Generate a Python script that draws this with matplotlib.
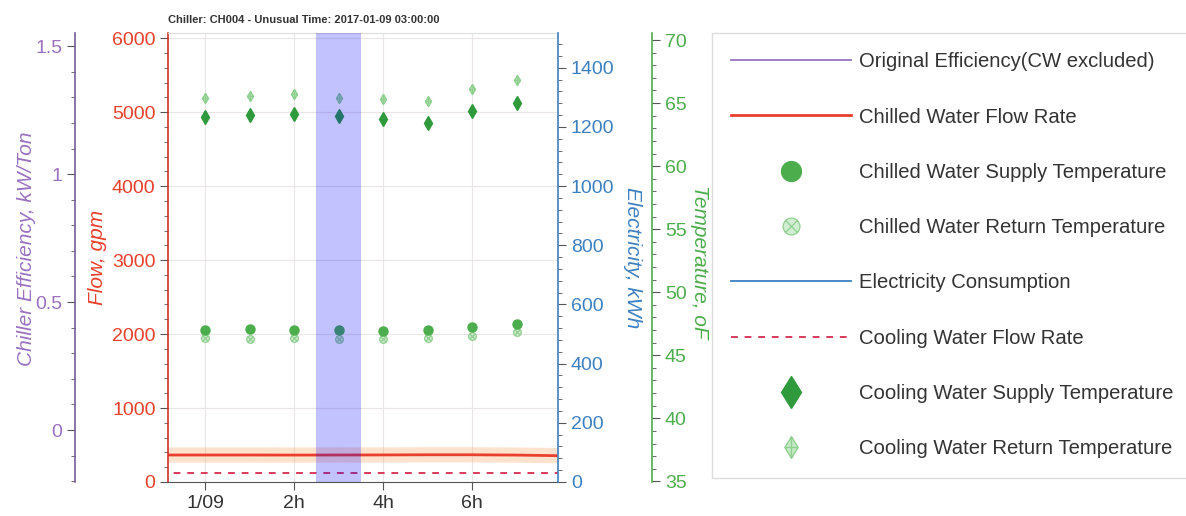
import matplotlib
matplotlib.use('Agg')
import matplotlib.pyplot as plt
from matplotlib.path import Path
from matplotlib.ticker import AutoMinorLocator, FixedLocator
import numpy as np

plt.rcParams['font.family'] = ['Liberation Sans', 'DejaVu Sans']

# ---- data ----
hours = [0, 1, 2, 3, 4, 5, 6, 7]
x_labels = ['1/09', '2h', '4h', '6h']
x_label_pos = [0, 2, 4, 6]

flow_hours = [-1, 0, 1, 2, 3, 4, 5, 6, 7, 8]
chw_flow = [365, 365, 365, 364, 365, 366, 368, 368, 364, 355]
cw_flow = [122, 122, 122, 122, 122, 122, 122, 122, 122, 122]

efficiency = []      # not visible in the view
electricity = []     # not visible in the view

chw_supply = [47.03, 47.09, 47.03, 46.98, 46.96, 46.98, 47.25, 47.49]
chw_return = [46.40, 46.32, 46.36, 46.32, 46.32, 46.40, 46.56, 46.88]
cw_supply = [63.92, 64.06, 64.11, 64.00, 63.74, 63.45, 64.37, 65.00]
cw_return = [65.38, 65.56, 65.70, 65.38, 65.33, 65.19, 66.09, 66.81]

unusual_start = 2.5
unusual_end = 3.5

title = 'Chiller: CH004 - Unusual Time: 2017-01-09 03:00:00'

# ---- colours ----
c_purple = '#9a72c0'
c_red = '#e8402c'
c_blue = '#3d80c0'
c_green = '#4cad4c'
c_dkgreen = '#2f9a3c'

# custom markers
diamond_plus = Path(
    [(0, 1), (0.62, 0), (0, -1), (-0.62, 0), (0, 1),
     (0, 1), (0, -1), (-0.62, 0), (0.62, 0)],
    [Path.MOVETO, Path.LINETO, Path.LINETO, Path.LINETO, Path.CLOSEPOLY,
     Path.MOVETO, Path.LINETO, Path.MOVETO, Path.LINETO])
circle_x = Path.make_compound_path(
    Path.unit_circle(),
    Path([(-0.7, -0.7), (0.7, 0.7)], [Path.MOVETO, Path.LINETO]),
    Path([(-0.7, 0.7), (0.7, -0.7)], [Path.MOVETO, Path.LINETO]))

fig = plt.figure(figsize=(11.86, 5.16), dpi=100)
ax = fig.add_axes([0.1417, 0.0659, 0.329, 0.870])
ax_e = ax.twinx()
ax_t = ax.twinx()
ax_p = ax.twinx()

ax_t.spines['right'].set_position(('axes', 1.241))
ax_p.spines['left'].set_position(('axes', -0.2385))
ax_p.yaxis.set_ticks_position('left')
ax_p.yaxis.set_label_position('left')

for a in (ax_e, ax_t, ax_p):
    a.spines['top'].set_visible(False)
    a.spines['bottom'].set_visible(False)
ax_e.spines['left'].set_visible(False)
ax_t.spines['left'].set_visible(False)
ax_p.spines['right'].set_visible(False)
ax.spines['right'].set_visible(False)
ax.spines['top'].set_color('#dddddd')
ax.spines['bottom'].set_color('#555555')

# lines on flow axis
ax.plot(flow_hours, chw_flow, color='#ff9a50', lw=11, alpha=0.28, solid_capstyle='butt')
l_chw, = ax.plot(flow_hours, chw_flow, color=c_red, lw=2, label='Chilled Water Flow Rate')
l_cw, = ax.plot(flow_hours, cw_flow, color='#d83a5a', lw=1.4, ls=(0, (3.5, 3.5)),
                label='Cooling Water Flow Rate')
l_eff, = ax_p.plot(hours[:len(efficiency)], efficiency, color=c_purple, lw=1.3,
                   label='Original Efficiency(CW excluded)')
l_el, = ax_e.plot(hours[:len(electricity)], electricity, color=c_blue, lw=1.3,
                  label='Electricity Consumption')

# temperature markers
m_cws, = ax_t.plot(hours, cw_supply, ls='none', marker='d', ms=7.5, color=c_dkgreen,
                   label='Cooling Water Supply Temperature')
m_cwr, = ax_t.plot(hours, cw_return, ls='none', marker=diamond_plus, ms=7,
                   mfc='#c6eac6', mec='#8fcf8f', mew=1.0,
                   label='Cooling Water Return Temperature')
m_chr, = ax_t.plot(hours, chw_return, ls='none', marker=circle_x, ms=5.5,
                   mfc='#d2eed2', mec='#8fcf8f', mew=0.9,
                   label='Chilled Water Return Temperature')
m_chs, = ax_t.plot(hours, chw_supply, ls='none', marker='o', ms=6.5, color=c_green,
                   label='Chilled Water Supply Temperature')

ax_t.axvspan(unusual_start, unusual_end, color='#0000ff', alpha=0.24, lw=0, zorder=5)

# limits
ax.set_xlim(-0.83, 7.93)
ax.set_ylim(0, 6070)
ax_e.set_ylim(0, 1517)
ax_t.set_ylim(34.95, 70.55)
ax_p.set_ylim(-0.203, 1.551)

# ticks
ax.xaxis.set_major_locator(FixedLocator(x_label_pos))
ax.set_xticklabels(x_labels)
ax.tick_params(axis='x', colors='#555555', labelcolor='#333333', labelsize=14, length=6)

ax.set_yticks([0, 1000, 2000, 3000, 4000, 5000, 6000])
ax.yaxis.set_minor_locator(AutoMinorLocator(5))
ax_e.set_yticks([0, 200, 400, 600, 800, 1000, 1200, 1400])
ax_e.yaxis.set_minor_locator(AutoMinorLocator(5))
ax_t.set_yticks([35, 40, 45, 50, 55, 60, 65, 70])
ax_t.yaxis.set_minor_locator(AutoMinorLocator(5))
ax_p.set_yticks([0, 0.5, 1, 1.5])
ax_p.set_yticklabels(['0', '0.5', '1', '1.5'])
ax_p.yaxis.set_minor_locator(AutoMinorLocator(5))

for a, col, sp in ((ax, c_red, 'left'), (ax_e, c_blue, 'right'),
                   (ax_t, c_green, 'right'), (ax_p, c_purple, 'left')):
    a.spines[sp].set_color(col)
    a.spines[sp].set_linewidth(1.2)
    a.tick_params(axis='y', which='major', colors='#555555', labelcolor=col,
                  labelsize=14, length=6, pad=3)
    a.tick_params(axis='y', which='minor', colors='#555555', length=3)
ax.spines['left'].set_color('#d0302a')
ax_p.spines['left'].set_color('#7a5a9a')

ax.grid(True, which='major', color='#ebe6e6', lw=0.8)

# axis labels
ax.set_ylabel('Flow, gpm', color=c_red, fontsize=15, style='italic')
ax.yaxis.set_label_coords(-0.182, 0.5)
ax_p.set_ylabel('Chiller Efficiency, kW/Ton', color=c_purple, fontsize=15, style='italic')
ax_p.yaxis.set_label_coords(-0.362, 0.52)
ax_e.set_ylabel('Electricity, kWh', color=c_blue, fontsize=15, style='italic', rotation=270)
ax_e.yaxis.set_label_coords(1.19, 0.5)
ax_t.set_ylabel('Temperature, oF', color=c_green, fontsize=15, style='italic', rotation=270)
ax_t.yaxis.set_label_coords(1.362, 0.49)
for a in (ax, ax_p, ax_e, ax_t):
    a.yaxis.label.set_verticalalignment('center')

ax.set_title(title, loc='left', fontsize=8, fontweight='bold', color='#333333', pad=7)

handles = [l_eff, l_chw, m_chs, m_chr, l_el, l_cw, m_cws, m_cwr]
leg = fig.legend(handles, [h.get_label() for h in handles], loc='upper left',
                 bbox_to_anchor=(0.600, 0.936), bbox_transform=fig.transFigure,
                 borderaxespad=0, fontsize=14.6, handlelength=5.9, handletextpad=0.44,
                 labelspacing=1.79, borderpad=0.95, markerscale=2.2, numpoints=1,
                 fancybox=False, edgecolor='#dddddd', framealpha=1)
for t in leg.get_texts():
    t.set_color('#333333')

fig.savefig('out.png', dpi=100)
